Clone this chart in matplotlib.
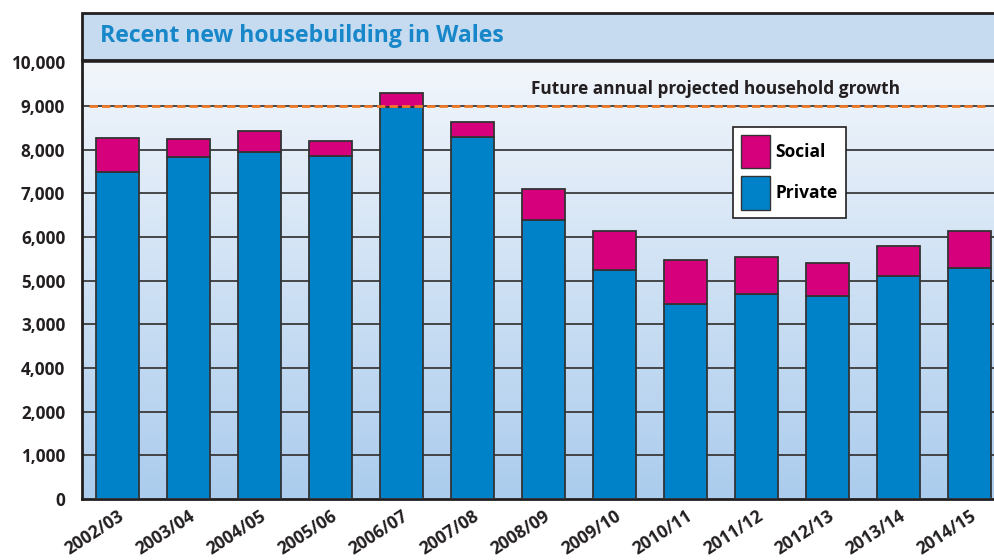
import numpy as np
import matplotlib.pyplot as plt
from matplotlib.patches import Rectangle, Patch

# data
years = ["2002/03", "2003/04", "2004/05", "2005/06", "2006/07", "2007/08", "2008/09",
         "2009/10", "2010/11", "2011/12", "2012/13", "2013/14", "2014/15"]
private = [7480, 7830, 7940, 7850, 8965, 8280, 6380, 5240, 4460, 4700, 4650, 5110, 5290]
social = [790, 415, 480, 350, 330, 340, 710, 890, 1000, 830, 760, 680, 835]
projected_growth = 9000
ytick_pos = [0, 1000, 2000, 3000, 4000, 5000, 6000, 7000, 8000, 9000, 10000]
ytick_lbl = ["0", "1,000", "2,000", "4,000", "3,000", "5,000", "6,000", "7,000",
             "8,000", "9,000", "10,000"]

plt.rcParams['font.family'] = ["Open Sans", "DejaVu Sans"]
DARK = "#231f20"

W, H = 995, 560
fig = plt.figure(figsize=(W / 100, H / 100), dpi=100)
fig.patch.set_facecolor("white")

left_px, right_px, top_px, bot_px = 82, 1005, 60, 499
ax = fig.add_axes([left_px / W, 1 - bot_px / H, (right_px - left_px) / W, (bot_px - top_px) / H])

x = np.arange(len(years))
ax.set_xlim(-0.5, len(years) - 0.5)
ax.set_ylim(0, 10050)

# gradient background
grad = np.linspace(0, 1, 256)[:, None]
top_c = np.array([0.95, 0.965, 0.985])
bot_c = np.array([0.67, 0.80, 0.93])
img = top_c * (1 - grad[..., None]) + bot_c * grad[..., None]
img = np.repeat(img, 2, axis=1)
ax.imshow(img, extent=[-0.5, len(years) - 0.5, 0, 10050], aspect='auto', zorder=0)

# gridlines
for yv in ytick_pos[1:]:
    ax.axhline(yv, color="#3a3a3a", lw=1.3, zorder=1)

ax.bar(x, private, width=0.61, color="#0082c9", edgecolor="#333333", lw=1.3, zorder=3)
ax.bar(x, social, bottom=private, width=0.61, color="#d6007c", edgecolor="#333333", lw=1.3, zorder=3)

# projection line
ax.plot([-0.4, 12.28], [projected_growth, projected_growth], color="#f07a28", lw=2,
        dashes=(3, 1.5), zorder=4)
ax.text(8.42, projected_growth + 170, "Future annual projected household growth",
        ha="center", va="bottom", fontsize=12.4, fontweight="bold", color=DARK)

ax.set_yticks(ytick_pos)
ax.set_yticklabels(ytick_lbl, fontsize=12.3, fontweight="bold", color=DARK)
ax.set_xticks(x)
ax.set_xticklabels(years, rotation=33, ha="right", va="top", rotation_mode="anchor",
                   fontsize=12.5, fontweight="bold", color=DARK)
ax.tick_params(axis="y", length=0, pad=12)
ax.tick_params(axis="x", length=0, pad=6)

for s in ["left", "bottom", "top"]:
    ax.spines[s].set_linewidth(2)
    ax.spines[s].set_color(DARK)
ax.spines["right"].set_visible(False)

handles = [Patch(facecolor="#d6007c", edgecolor="#333333", label="Social"),
           Patch(facecolor="#0082c9", edgecolor="#333333", label="Private")]
leg = ax.legend(handles=handles, loc="upper left", bbox_to_anchor=(733 / W, 1 - 127 / H),
                bbox_transform=fig.transFigure, prop={"weight": "bold", "size": 12.5},
                frameon=True, fancybox=False, edgecolor=DARK, framealpha=1, borderaxespad=0,
                handlelength=1.7, handleheight=2.6, labelspacing=0.45, borderpad=0.45,
                handletextpad=0.3)
leg.get_frame().set_linewidth(1.2)
leg.set_zorder(6)

# title band
fig.patches.append(Rectangle((left_px / W, 1 - top_px / H), (1010 - left_px) / W, (top_px - 13) / H,
                             transform=fig.transFigure, facecolor="#c6dbf0", edgecolor=DARK,
                             lw=2, zorder=0))
fig.text(100 / W, 1 - 36 / H, "Recent new housebuilding in Wales", fontsize=16.6, fontweight="bold",
         color="#1787c9", va="center", ha="left")

fig.savefig("out.png", dpi=100)
